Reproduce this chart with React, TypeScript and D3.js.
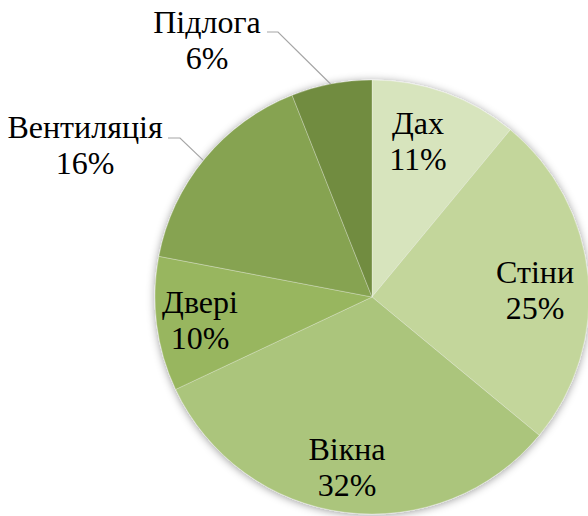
import React from "react";
import * as d3 from "d3";

const categories = ["Дах", "Стіни", "Вікна", "Двері", "Вентиляція", "Підлога"];
const values = [11, 25, 32, 10, 16, 6];
const colors = ["#d7e4bd", "#c3d69b", "#abc57c", "#98b65e", "#86a351", "#718c3f"];

// layout
const W = 588, H = 516;
const CX = 372, CY = 297, R = 217;
const FONT = 32;
const LINE = 36;
const FAMILY = '"Liberation Serif", "Times New Roman", serif';
// label first-baseline anchor offsets from centre
const labelOffsets: [number, number][] = [
  [46, -163], [163, -14], [-25, 163], [-172, 16], [-287, -159], [-165, -264],
];
// leader lines: [elbow start x offset, elbow end x offset, y offset, angle on arc (deg)] ; null = none
const leaders: ([number, number, number, number] | null)[] = [
  null, null, null, null,
  [-204, -192, -159, 309],
  [-105, -94, -265, 349],
];

export default function App() {
  const pie = d3.pie<number>().sort(null).value((d) => d);
  const arcs = pie(values);
  const arc = d3.arc<d3.PieArcDatum<number>>().innerRadius(0).outerRadius(R);
  return (
    <svg width={W} height={H} style={{ position: "absolute", left: 0, top: 0 }}>
      <defs>
        <filter id="sh" x="-20%" y="-20%" width="140%" height="140%">
          <feDropShadow dx="0" dy="1" stdDeviation="4" floodColor="#000" floodOpacity="0.4" />
        </filter>
      </defs>
      <rect width={W} height={H} fill="#fff" />
      <g transform={`translate(${CX},${CY})`}>
        <g filter="url(#sh)">
          {arcs.map((a, i) => (
            <path key={i} d={arc(a) || ""} fill={colors[i]} stroke="rgba(255,255,255,0.35)" strokeWidth={0.8} />
          ))}
        </g>
        {leaders.map((l, i) => {
          if (!l) return null;
          const ang = (l[3] * Math.PI) / 180;
          const ex = R * Math.sin(ang), ey = -R * Math.cos(ang);
          return (
            <polyline key={i} points={`${l[0]},${l[2]} ${l[1]},${l[2]} ${ex},${ey}`}
              fill="none" stroke="#a6a6a6" strokeWidth={1.2} />
          );
        })}
        {categories.map((c, i) => (
          <text key={i} x={labelOffsets[i][0]} y={labelOffsets[i][1]} textAnchor="middle"
            fontSize={FONT} fill="#000" style={{ fontFamily: FAMILY }}>
            <tspan x={labelOffsets[i][0]}>{c}</tspan>
            <tspan x={labelOffsets[i][0]} dy={LINE}>{`${values[i]}%`}</tspan>
          </text>
        ))}
      </g>
    </svg>
  );
}
